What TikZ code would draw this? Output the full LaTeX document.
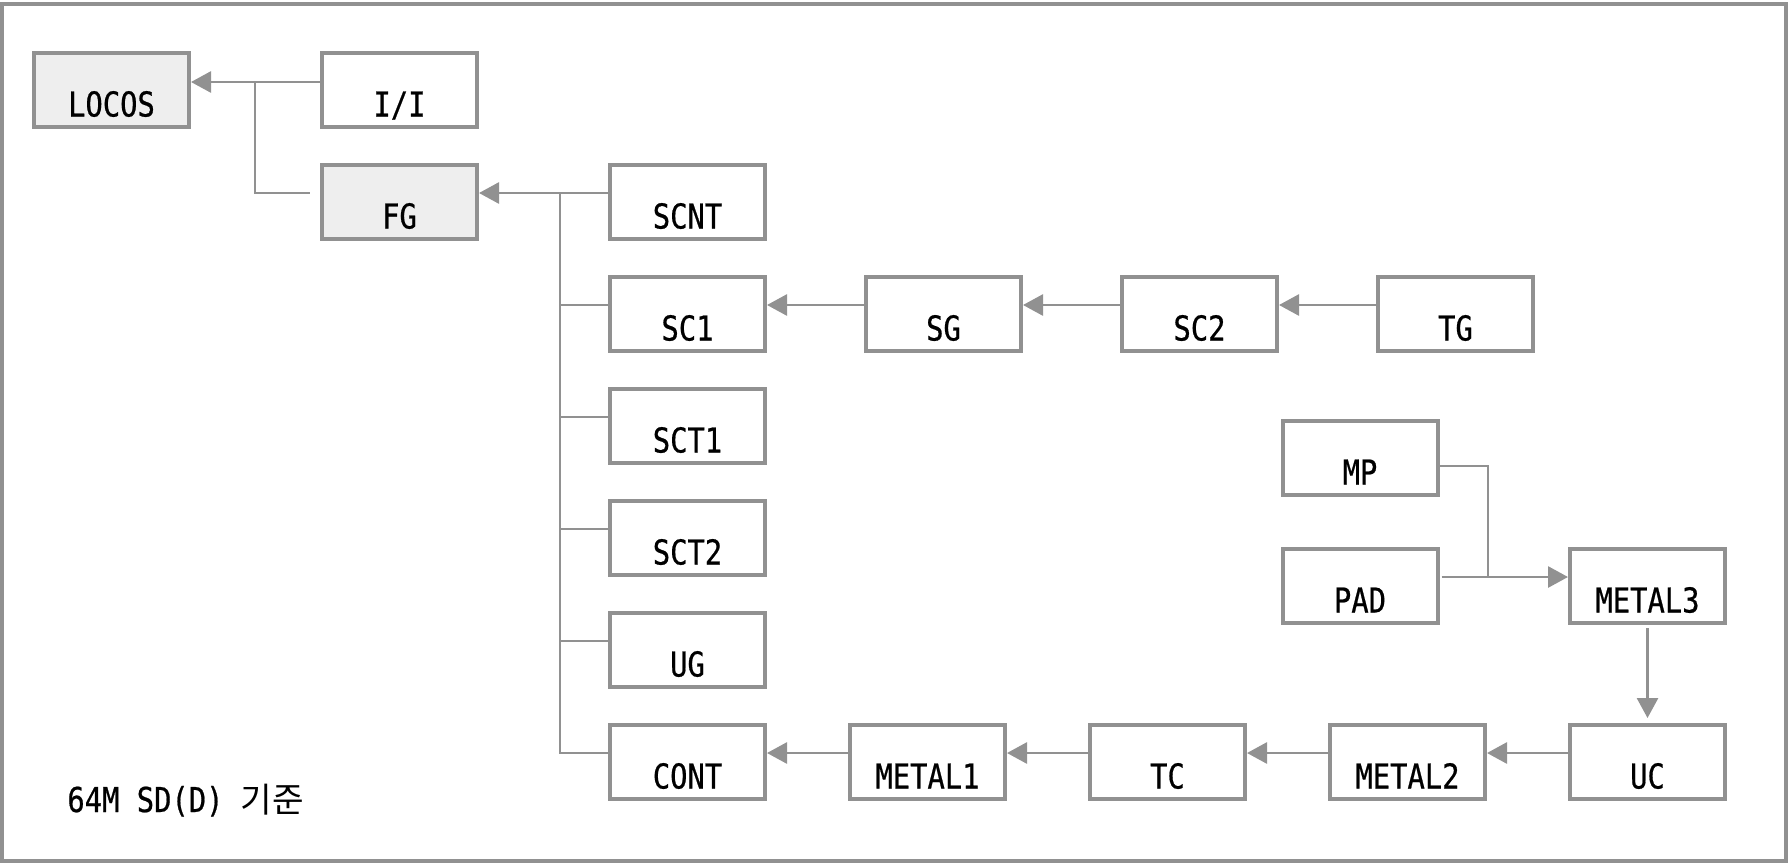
\documentclass[tikz,border=0pt]{standalone}
\usepackage{fontspec}
\setmainfont{DejaVu Sans Mono}[FakeStretch=0.84,FakeBold=0.6]
\newfontfamily\krfont{Noto Sans CJK KR}
\usetikzlibrary{arrows.meta,calc}
\definecolor{lgray}{RGB}{145,145,145}
\definecolor{lfill}{RGB}{238,238,238}
\tikzset{
  box/.style={draw=lgray, line width=2pt, fill=white, minimum width=77.5pt, minimum height=37pt,
    inner sep=0pt, text height=26.5pt, text depth=0pt, font=\fontsize{17.15pt}{20pt}\selectfont},
  gbox/.style={box, fill=lfill},
  conn/.style={draw=lgray, line width=1.4pt},
  arr/.style={conn, -{Triangle[length=10pt,width=10.5pt]}},
}
\begin{document}
\begin{tikzpicture}[x=0.5pt,y=-0.5pt]
\useasboundingbox (0,0) rectangle (1788,863);
\draw[lgray, line width=2pt] (2,4) rectangle (1786,861);
% nodes
\node[gbox] (locos) at (111.5,90) {LOCOS};
\node[box]  (ii)    at (399.5,90) {I/I};
\node[gbox] (fg)    at (399.5,202) {FG};
\node[box] (scnt) at (687.5,202) {SCNT};
\node[box] (sc1)  at (687.5,314) {SC1};
\node[box] (sct1) at (687.5,426) {SCT1};
\node[box] (sct2) at (687.5,538) {SCT2};
\node[box] (ug)   at (687.5,650) {UG};
\node[box] (cont) at (687.5,762) {CONT};
\node[box] (sg)  at (943.5,314) {SG};
\node[box] (sc2) at (1199.5,314) {SC2};
\node[box] (tg)  at (1455.5,314) {TG};
\node[box] (metal1) at (927.5,762) {METAL1};
\node[box] (tc)     at (1167.5,762) {TC};
\node[box] (metal2) at (1407.5,762) {METAL2};
\node[box] (uc)     at (1647.5,762) {UC};
\node[box] (mp)     at (1360,458) {MP};
\node[box] (pad)    at (1360,586) {PAD};
\node[box] (metal3) at (1647.5,586) {METAL3};
\node[anchor=base west, inner sep=0pt, font=\fontsize{17.15pt}{20pt}\selectfont] (note) at (67,812) {64M SD(D) {\krfont 기준}};
% connectors
\coordinate (j1) at (255,82);
\coordinate (j2) at (560,193);
\coordinate (j3) at (1488,577);
\draw[arr] ([yshift=4pt]ii.west) -- ([yshift=4pt]locos.east);
\draw[conn] (j1) |- ([xshift=-5pt,yshift=4.5pt]fg.west);
\draw[arr] ([yshift=4.5pt]scnt.west) -- ([yshift=4.5pt]fg.east);
\draw[conn] (j2) |- ([yshift=4.5pt]cont.west);
\foreach \n in {sc1,sct1,sct2,ug}{
  \draw[conn] ([yshift=4.5pt]\n.west) -- ++(-48,0);
}
\draw[arr] ([yshift=4.5pt]sg.west) -- ([yshift=4.5pt]sc1.east);
\draw[arr] ([yshift=4.5pt]sc2.west) -- ([yshift=4.5pt]sg.east);
\draw[arr] ([yshift=4.5pt]tg.west) -- ([yshift=4.5pt]sc2.east);
\draw[arr] ([yshift=4.5pt]metal1.west) -- ([yshift=4.5pt]cont.east);
\draw[arr] ([yshift=4.5pt]tc.west) -- ([yshift=4.5pt]metal1.east);
\draw[arr] ([yshift=4.5pt]metal2.west) -- ([yshift=4.5pt]tc.east);
\draw[arr] ([yshift=4.5pt]uc.west) -- ([yshift=4.5pt]metal2.east);
\draw[conn] ([yshift=-4pt]mp.east) -| (j3);
\draw[arr] ([xshift=1pt,yshift=4.5pt]pad.east) -- ([yshift=4.5pt]metal3.west);
\draw[arr] ([yshift=-1.5pt]metal3.south) -- ([yshift=2.5pt]uc.north);
\end{tikzpicture}
\end{document}
